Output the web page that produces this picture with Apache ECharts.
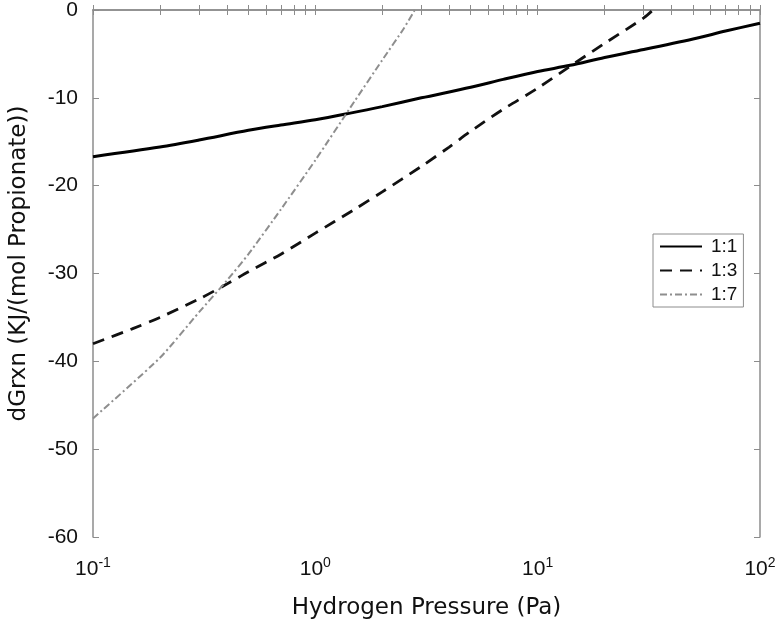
<!DOCTYPE html>
<html>
<head>
<meta charset="utf-8">
<script src="https://cdn.jsdelivr.net/npm/echarts@6/dist/echarts.min.js"></script>
<style>html,body{margin:0;padding:0;background:#fff}#c{width:779px;height:622px}</style>
</head>
<body>
<div id="c"></div>
<script>
// Data (x: hydrogen pressure in Pa, y: dGrxn)
const seriesNames = ['1:1', '1:3', '1:7'];
const p11 = [0.1, 0.2, 0.3, 0.5, 0.7, 1, 1.4, 2, 3, 5, 7, 10, 14, 20, 30, 50, 70, 100];
const g11 = [-16.7, -15.6, -14.8, -13.7, -13.1, -12.5, -11.8, -11.0, -10.0, -8.8, -7.9, -7.0, -6.3, -5.4, -4.5, -3.3, -2.4, -1.5];
const p13 = [0.1, 0.15, 0.2, 0.3, 0.4, 0.5, 0.7, 1, 1.5, 2, 3, 4, 5, 7, 10, 14, 20, 30, 33];
const g13 = [-38.0, -36.3, -35.0, -32.9, -31.2, -29.8, -27.8, -25.4, -22.7, -20.7, -17.8, -15.6, -13.8, -11.3, -8.9, -6.4, -3.8, -0.9, 0];
const p17 = [0.1, 0.2, 0.3, 0.4, 0.5, 0.7, 1, 1.5, 2, 2.5, 2.8];
const g17 = [-46.5, -39.6, -34.4, -30.8, -27.8, -22.7, -17.1, -10.4, -5.7, -2.1, 0];
const xMajorTicks = [0.1, 1, 10, 100];
const xMinorTicks = [0.2,0.3,0.4,0.5,0.6,0.7,0.8,0.9, 2,3,4,5,6,7,8,9, 20,30,40,50,60,70,80,90];
const xTickExponents = {'0.1': '-1', '1': '0', '10': '1', '100': '2'};

const zip = (a, b) => a.map((v, i) => [v, b[i]]);
const FONT = 'Liberation Sans, Arial, Helvetica, sans-serif';
const TITLE_FONT = 'DejaVu Sans, sans-serif';
const frameColor = '#8c8c8c';
const allXTicks = xMajorTicks.concat(xMinorTicks).sort((a, b) => a - b);

const chart = echarts.init(document.getElementById('c'), null, {renderer: 'canvas'});
const grid = {left: 93, right: 19, top: 10, bottom: 85, outerBoundsMode: 'none', containLabel: false};

function xAxisBase(pos, showLabel) {
  return {
    type: 'log', logBase: 10, min: 0.1, max: 100, position: pos,
    axisLine: {show: true, lineStyle: {color: frameColor, width: 1.5}},
    axisTick: {show: true, inside: true, length: 5, customValues: allXTicks, lineStyle: {color: frameColor, width: 1}},
    splitLine: {show: false},
    minorTick: {show: false},
    axisLabel: showLabel ? {
      show: true, customValues: xMajorTicks, margin: 19,
      formatter: v => {
        const k = String(+v.toPrecision(6));
        return '{b|10}{s|' + (xTickExponents[k] || '') + '}';
      },
      rich: {
        b: {fontSize: 21, fontFamily: FONT, color: '#111'},
        s: {fontSize: 14, fontFamily: FONT, color: '#111', padding: [0, 0, 13, 0]}
      }
    } : {show: false}
  };
}

function yAxisBase(pos, showLabel) {
  return {
    type: 'value', min: -60, max: 0, interval: 10, position: pos,
    axisLine: {show: true, onZero: false, lineStyle: {color: frameColor, width: 1.5}},
    axisTick: {show: true, inside: true, length: 6, lineStyle: {color: frameColor, width: 1}},
    splitLine: {show: false},
    axisLabel: showLabel ? {show: true, margin: 15, fontSize: 21, fontFamily: FONT, color: '#111'} : {show: false}
  };
}

const xMain = Object.assign(xAxisBase('bottom', true), {
  name: 'Hydrogen Pressure (Pa)', nameLocation: 'middle', nameGap: 60,
  nameTextStyle: {fontSize: 23, fontFamily: TITLE_FONT, color: '#111'}
});
const xTop = xAxisBase('top', false);
const yMain = Object.assign(yAxisBase('left', true), {
  name: 'dGrxn (KJ/(mol Propionate))', nameLocation: 'middle', nameGap: 62,
  nameTextStyle: {fontSize: 23, fontFamily: TITLE_FONT, color: '#111', padding: [0, 0, 0, 20]}
});
const yRight = yAxisBase('right', false);

chart.setOption({
  animation: false,
  backgroundColor: '#fff',
  grid: grid,
  xAxis: [xMain, xTop],
  yAxis: [yMain, yRight],
  legend: {
    orient: 'vertical', left: 653, top: 234,
    data: seriesNames,
    backgroundColor: '#fff',
    borderColor: '#8c8c8c', borderWidth: 1,
    padding: [3, 6, 3, 6], itemGap: 5,
    itemWidth: 42, itemHeight: 18,
    itemStyle: {opacity: 0},
    textStyle: {fontSize: 19, fontFamily: FONT, color: '#111', padding: [0, 0, 0, 4]}
  },
  series: [
    {name: seriesNames[0], type: 'line', xAxisIndex: 0, yAxisIndex: 0, data: zip(p11, g11),
     smooth: 0.3, symbol: 'none', color: '#000',
     lineStyle: {color: '#000', width: 3, type: 'solid'}},
    {name: seriesNames[1], type: 'line', xAxisIndex: 0, yAxisIndex: 0, data: zip(p13, g13),
     smooth: 0.3, symbol: 'none', color: '#111',
     lineStyle: {color: '#111', width: 2.8, type: [12, 8]}},
    {name: seriesNames[2], type: 'line', xAxisIndex: 0, yAxisIndex: 0, data: zip(p17, g17),
     smooth: 0.2, symbol: 'none', color: '#8e8e8e',
     lineStyle: {color: '#8e8e8e', width: 2, type: [7, 3, 2, 3]}}
  ]
});
</script>
</body>
</html>
